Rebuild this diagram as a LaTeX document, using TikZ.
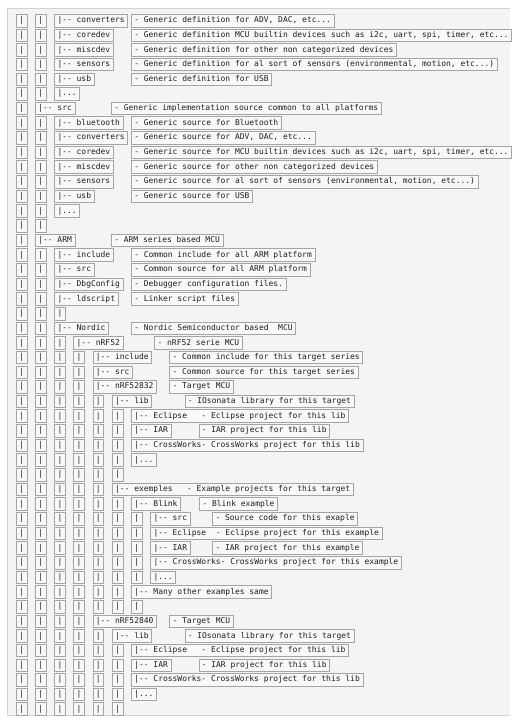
\documentclass[tikz,border=0pt]{standalone}
\usepackage{fontspec}
\setmonofont{DejaVu Sans Mono}
\frenchspacing
\definecolor{panelbg}{HTML}{F4F4F4}
\definecolor{cellbg}{HTML}{F8F8F8}
\definecolor{boxc}{HTML}{A4A4A4}
\definecolor{bordc}{HTML}{D2D2D2}
\definecolor{txt}{HTML}{1E1E1E}
\newcommand\bb{|-\kern0pt-}
\newcommand\pipes[2]{\foreach \k in {1,...,#2}{\node[cell] (p#1-\k) at ({15.8+(\k-1)*19.2},{20.5+(#1-1)*14.65}) {|};}}
\newcommand\nm[3]{\node[cell] (n#1) at ({15.8+#2*19.2},{20.5+(#1-1)*14.65}) {#3};}
\newcommand\ds[3]{\node[cell] (d#1) at (#2,{20.5+(#1-1)*14.65}) {#3};}
\begin{document}
\begin{tikzpicture}[x=1pt,y=-1pt,
  cell/.style={draw=boxc, fill=cellbg, line width=0.6pt, anchor=west,
    inner xsep=3pt, inner ysep=0pt, minimum height=12.6pt,
    text height=5.8pt, text depth=1.4pt,
    font=\ttfamily\fontsize{7.97}{9}\selectfont, text=txt}]
\useasboundingbox (0,0) rectangle (523,726);
\fill[panelbg] (7,8) rectangle (510,715);
\draw[bordc, line width=0.8pt] (510,8) -- (7,8) -- (7,715) -- (510,715);
% rows 1-6
\pipes{1}{2}\nm{1}{2}{\bb{} converters}\ds{1}{131}{- Generic definition for ADV, DAC, etc...}
\pipes{2}{2}\nm{2}{2}{\bb{} coredev}\ds{2}{131}{- Generic definition MCU builtin devices such as i2c, uart, spi, timer, etc...}
\pipes{3}{2}\nm{3}{2}{\bb{} miscdev}\ds{3}{131}{- Generic definition for other non categorized devices}
\pipes{4}{2}\nm{4}{2}{\bb{} sensors}\ds{4}{131}{- Generic definition for al sort of sensors (environmental, motion, etc...)}
\pipes{5}{2}\nm{5}{2}{\bb{} usb}\ds{5}{131}{- Generic definition for USB}
\pipes{6}{2}\nm{6}{2}{|...}
% src
\pipes{7}{1}\nm{7}{1}{\bb{} src}\ds{7}{111}{- Generic implementation source common to all platforms}
\pipes{8}{2}\nm{8}{2}{\bb{} bluetooth}\ds{8}{131}{- Generic source for Bluetooth}
\pipes{9}{2}\nm{9}{2}{\bb{} converters}\ds{9}{131}{- Generic source for ADV, DAC, etc...}
\pipes{10}{2}\nm{10}{2}{\bb{} coredev}\ds{10}{131}{- Generic source for MCU builtin devices such as i2c, uart, spi, timer, etc...}
\pipes{11}{2}\nm{11}{2}{\bb{} miscdev}\ds{11}{131}{- Generic source for other non categorized devices}
\pipes{12}{2}\nm{12}{2}{\bb{} sensors}\ds{12}{131}{- Generic source for al sort of sensors (environmental, motion, etc...)}
\pipes{13}{2}\nm{13}{2}{\bb{} usb}\ds{13}{131}{- Generic source for USB}
\pipes{14}{2}\nm{14}{2}{|...}
\pipes{15}{2}
% ARM
\pipes{16}{1}\nm{16}{1}{\bb{} ARM}\ds{16}{111}{- ARM series based MCU}
\pipes{17}{2}\nm{17}{2}{\bb{} include}\ds{17}{131}{- Common include for all ARM platform}
\pipes{18}{2}\nm{18}{2}{\bb{} src}\ds{18}{131}{- Common source for all ARM platform}
\pipes{19}{2}\nm{19}{2}{\bb{} DbgConfig}\ds{19}{131}{- Debugger configuration files.}
\pipes{20}{2}\nm{20}{2}{\bb{} ldscript}\ds{20}{131}{- Linker script files}
\pipes{21}{3}
\pipes{22}{2}\nm{22}{2}{\bb{} Nordic}\ds{22}{131}{- Nordic Semiconductor based~~MCU}
\pipes{23}{3}\nm{23}{3}{\bb{} nRF52}\ds{23}{154.3}{- nRF52 serie MCU}
\pipes{24}{4}\nm{24}{4}{\bb{} include}\ds{24}{169.3}{- Common include for this target series}
\pipes{25}{4}\nm{25}{4}{\bb{} src}\ds{25}{169.3}{- Common source for this target series}
\pipes{26}{4}\nm{26}{4}{\bb{} nRF52832}\ds{26}{169.3}{- Target MCU}
\pipes{27}{5}\nm{27}{5}{\bb{} lib}\ds{27}{184.5}{- IOsonata library for this target}
\pipes{28}{6}\nm{28}{6}{\bb{} Eclipse~~~- Eclipse project for this lib}
\pipes{29}{6}\nm{29}{6}{\bb{} IAR}\ds{29}{198.5}{- IAR project for this lib}
\pipes{30}{6}\nm{30}{6}{\bb{} CrossWorks- CrossWorks project for this lib}
\pipes{31}{6}\nm{31}{6}{|...}
\pipes{32}{6}
% examples
\pipes{33}{5}\nm{33}{5}{\bb{} exemples~~~- Example projects for this target}
\pipes{34}{6}\nm{34}{6}{\bb{} Blink}\ds{34}{199.2}{- Blink example}
\pipes{35}{7}\nm{35}{7}{\bb{} src}\ds{35}{212.2}{- Source code for this exaple}
\pipes{36}{7}\nm{36}{7}{\bb{} Eclipse~~- Eclipse project for this example}
\pipes{37}{7}\nm{37}{7}{\bb{} IAR}\ds{37}{212.2}{- IAR project for this example}
\pipes{38}{7}\nm{38}{7}{\bb{} CrossWorks- CrossWorks project for this example}
\pipes{39}{7}\nm{39}{7}{|...}
\pipes{40}{6}\nm{40}{6}{\bb{} Many other examples same}
\pipes{41}{7}
% nRF52840
\pipes{42}{4}\nm{42}{4}{\bb{} nRF52840}\ds{42}{169.3}{- Target MCU}
\pipes{43}{5}\nm{43}{5}{\bb{} lib}\ds{43}{184.5}{- IOsonata library for this target}
\pipes{44}{6}\nm{44}{6}{\bb{} Eclipse~~~- Eclipse project for this lib}
\pipes{45}{6}\nm{45}{6}{\bb{} IAR}\ds{45}{198.5}{- IAR project for this lib}
\pipes{46}{6}\nm{46}{6}{\bb{} CrossWorks- CrossWorks project for this lib}
\pipes{47}{6}\nm{47}{6}{|...}
\pipes{48}{6}
\end{tikzpicture}
\end{document}
